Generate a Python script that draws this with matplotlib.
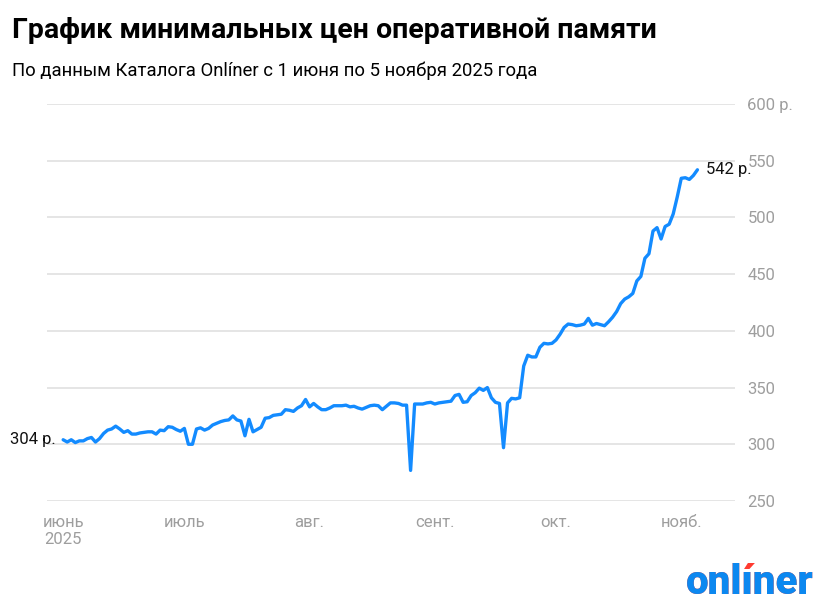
import numpy as np
import pandas as pd
import matplotlib
matplotlib.use('Agg')
import matplotlib.pyplot as plt
import matplotlib.dates as mdates

plt.rcParams['font.family'] = ['Roboto', 'DejaVu Sans']

# минимальная цена, р., по дням с 1 июня по 5 ноября 2025
dates = pd.date_range('2025-06-01', '2025-11-05', freq='D')
prices = [
    304, 302, 304, 301.5, 303, 303, 305, 306, 302, 305,          # 1-10 июня
    309.5, 312.5, 313.5, 316, 313.5, 310.5, 312, 309, 309, 310,
    310.5, 311, 311, 309, 312.5, 312, 315.5, 315, 313, 311.5,
    314, 300, 300, 313.5, 314.5, 312.5, 314, 317, 318.5, 320,    # июль
    321, 321.5, 325, 321.5, 320.5, 307.5, 322, 311, 313, 315,
    323, 323.5, 325.5, 326, 326.5, 330.5, 330, 329, 332, 334,
    339.5, 333,
    336, 333, 330.5, 330.5, 332, 334, 334, 334, 334.5, 333,      # август
    333.5, 332, 331, 332.5, 334, 334.5, 334, 330.5, 333.5, 336.5,
    336.5, 336, 334.5, 334.5, 277, 335.5, 335.5, 335.5, 336.5, 337,
    335.5, 336.5, 337, 337.5, 338, 343, 344, 337, 337.5, 343,    # сентябрь
    345.5, 349.5, 347.5, 350, 341, 337, 336, 297, 336.5, 340.5,
    340, 341, 369, 378.5, 377, 377, 385.5, 389, 388.5, 389,
    392, 397, 403, 406, 405.5, 404.5, 405, 406, 411, 405,        # октябрь
    406.5, 405.5, 404.5, 408, 412, 417, 424, 428, 430, 433,
    444, 448, 464, 468, 488, 491, 481, 492, 494, 503,
    518,
    534.5, 535, 533.5, 537, 542,                                 # ноябрь
]

yticks = [250, 300, 350, 400, 450, 500, 550, 600]
ytick_labels = ['250', '300', '350', '400', '450', '500', '550', '600 р.']
month_starts = pd.to_datetime(['2025-06-01', '2025-07-01', '2025-08-01',
                               '2025-09-01', '2025-10-01', '2025-11-01'])
month_labels = ['июнь\n2025', 'июль', 'авг.', 'сент.', 'окт.', 'нояб.']

blue = '#138bff'
grey = '#9e9e9e'

fig = plt.figure(figsize=(8.2, 6.03), dpi=100)
ax = fig.add_axes([47/820, 1 - 501/603, 688/820, 397/603])

ax.plot(dates, prices, color=blue, lw=2.4, solid_joinstyle='round',
        solid_capstyle='round', zorder=3)

ax.set_ylim(250, 600)
ax.set_xlim(dates[0] - pd.Timedelta(days=4), dates[0] + pd.Timedelta(days=166.3))

ax.set_yticks(yticks)
ax.set_yticklabels(ytick_labels)
ax.yaxis.tick_right()
ax.grid(axis='y', color='#e3e3e3', lw=1.3, zorder=0)
ax.set_xticks(month_starts)
ax.set_xticklabels(month_labels)
ax.tick_params(axis='y', length=0, pad=9, labelsize=12, labelcolor=grey)
ax.tick_params(axis='x', length=0, pad=10, labelsize=12, labelcolor=grey)
for lab in ax.get_yticklabels():
    lab.set_horizontalalignment('left')
for s in ax.spines.values():
    s.set_visible(False)

# подписи первого и последнего значения
ax.annotate(f'{prices[0]:.0f} р.', (dates[0], prices[0]), xytext=(-5, 0),
            textcoords='offset points', ha='right', va='center',
            fontsize=12, color='#111111')
ax.annotate(f'{prices[-1]:.0f} р.', (dates[-1], prices[-1]), xytext=(6, 0),
            textcoords='offset points', ha='left', va='center',
            fontsize=12, color='#111111')

fig.text(12/820, 1 - 30/603, 'График минимальных цен оперативной памяти',
         fontsize=20.5, fontweight='bold', va='center', ha='left')
fig.text(12/820, 1 - 71/603, 'По данным Каталога Onlíner с 1 июня по 5 ноября 2025 года',
         fontsize=13.3, va='center', ha='left')

# логотип: красный акцент поверх синего текста
fig.text(814/820, 1 - 602/603, 'onlíner', fontsize=29, fontweight='heavy',
         color='#ff3b30', ha='right', va='bottom')
fig.text(814/820, 1 - 602/603, 'onlıner', fontsize=29, fontweight='heavy',
         color='#0c88f0', ha='right', va='bottom')

fig.savefig('out.png', dpi=100, facecolor='white')
